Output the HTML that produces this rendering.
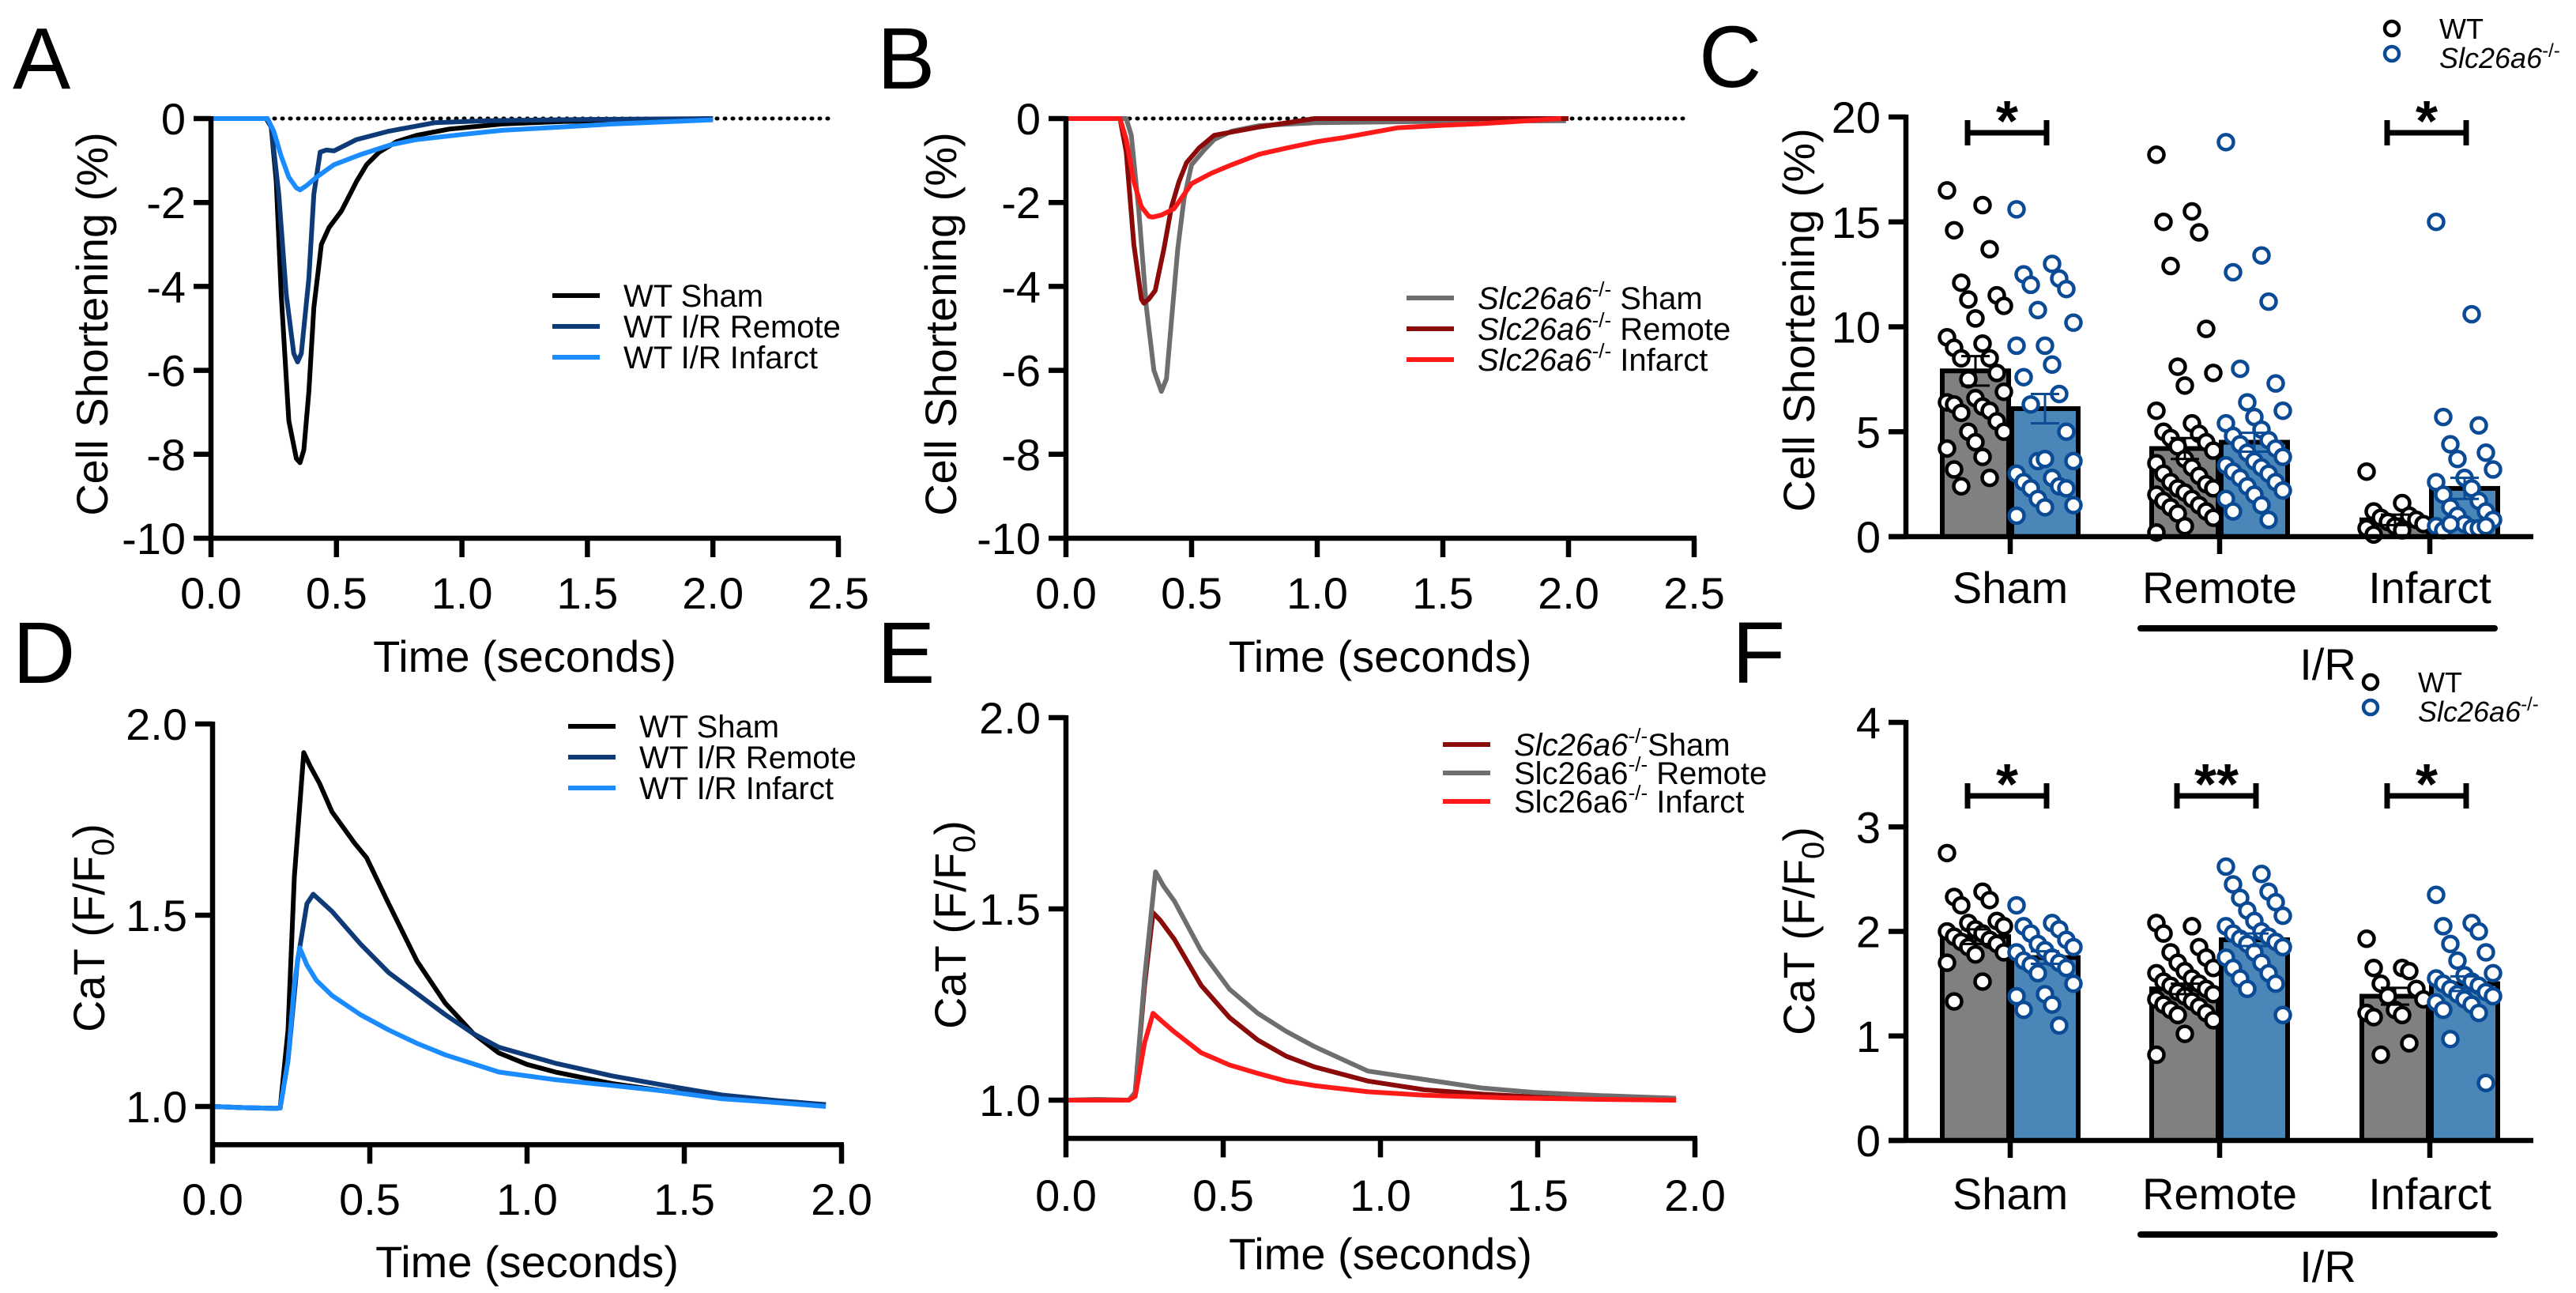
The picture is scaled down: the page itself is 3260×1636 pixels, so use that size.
<!DOCTYPE html>
<html><head><meta charset="utf-8">
<style>
html,body{margin:0;padding:0;background:#fff;}
svg{display:block;font-family:"Liberation Sans",Arial,sans-serif;}
</style></head>
<body>
<svg id="fig" xmlns="http://www.w3.org/2000/svg" width="3260" height="1636" viewBox="0 0 3260 1636">
<rect width="3260" height="1636" fill="#fff"/>
<text x="16" y="112" font-size="110">A</text>
<text x="1110" y="112" font-size="110">B</text>
<text x="2150" y="110" font-size="110">C</text>
<text x="16" y="864" font-size="110">D</text>
<text x="1110" y="864" font-size="110">E</text>
<text x="2192" y="864" font-size="110">F</text>
</svg>
<script>
// ---------- DATA ----------
const aShamT=[0,0.22,0.24,0.26,0.28,0.31,0.34,0.355,0.37,0.39,0.41,0.44,0.47,0.52,0.58,0.62,0.67,0.74,0.82,0.95,1.16,1.4,1.7,2.0];
const aShamV=[0,0,-0.2,-1.5,-4.2,-7.2,-8.1,-8.2,-7.9,-6.5,-4.5,-3.0,-2.6,-2.2,-1.5,-1.1,-0.8,-0.55,-0.4,-0.25,-0.13,-0.07,-0.04,0];
const aRemT=[0,0.225,0.24,0.27,0.3,0.33,0.345,0.36,0.39,0.41,0.435,0.46,0.49,0.58,0.71,0.89,1.1,1.5,2.0];
const aRemV=[0,0,-0.2,-1.8,-4.2,-5.6,-5.8,-5.6,-3.8,-1.8,-0.8,-0.75,-0.77,-0.5,-0.3,-0.1,-0.05,-0.02,0];
const aInfT=[0,0.225,0.25,0.28,0.31,0.34,0.355,0.38,0.42,0.49,0.6,0.72,0.82,1.0,1.16,1.4,1.6,1.8,2.0];
const aInfV=[0,0,-0.3,-0.9,-1.4,-1.65,-1.7,-1.6,-1.4,-1.1,-0.85,-0.62,-0.5,-0.38,-0.28,-0.2,-0.13,-0.08,-0.03];
const bShamT=[0,0.24,0.26,0.29,0.32,0.35,0.38,0.4,0.42,0.445,0.47,0.5,0.55,0.59,0.66,0.77,0.99,1.43,1.99];
const bShamV=[0,0,-0.4,-2.2,-4.5,-6.0,-6.5,-6.2,-4.8,-3.1,-1.9,-1.1,-0.75,-0.5,-0.3,-0.17,-0.1,-0.07,-0.05];
const bRemT=[0,0.215,0.24,0.27,0.3,0.31,0.33,0.355,0.39,0.42,0.45,0.48,0.53,0.59,0.77,0.99,1.5,2.0];
const bRemV=[0,0,-0.8,-3.0,-4.3,-4.4,-4.3,-4.1,-3.1,-2.1,-1.5,-1.05,-0.7,-0.4,-0.2,0,0,0];
const bInfT=[0,0.215,0.24,0.27,0.3,0.33,0.345,0.38,0.43,0.5,0.58,0.66,0.77,0.88,1.0,1.1,1.32,1.5,1.66,1.97];
const bInfV=[0,0,-0.5,-1.5,-2.1,-2.33,-2.35,-2.3,-2.15,-1.55,-1.3,-1.1,-0.85,-0.7,-0.55,-0.46,-0.22,-0.16,-0.12,0];
const dShamT=[0,0.1,0.2,0.215,0.24,0.26,0.29,0.31,0.34,0.38,0.45,0.49,0.56,0.65,0.74,0.83,0.91,1.0,1.09,1.27,1.44,1.62,1.8,1.95];
const dShamV=[1.0,0.997,0.995,0.996,1.2,1.6,1.925,1.89,1.845,1.77,1.69,1.65,1.53,1.38,1.27,1.19,1.14,1.11,1.09,1.06,1.04,1.025,1.012,1.005];
const dRemT=[0,0.1,0.2,0.215,0.24,0.27,0.3,0.32,0.38,0.47,0.56,0.65,0.74,0.83,0.91,1.09,1.27,1.44,1.62,1.8,1.95];
const dRemV=[1.0,0.997,0.995,0.996,1.12,1.38,1.53,1.555,1.51,1.425,1.35,1.295,1.24,1.19,1.155,1.113,1.08,1.055,1.03,1.015,1.005];
const dInfT=[0,0.1,0.2,0.215,0.24,0.26,0.277,0.3,0.33,0.38,0.47,0.56,0.65,0.74,0.91,1.09,1.27,1.44,1.62,1.8,1.95];
const dInfV=[1.0,0.997,0.995,0.996,1.12,1.32,1.415,1.37,1.33,1.29,1.24,1.2,1.165,1.135,1.09,1.07,1.055,1.04,1.02,1.01,1.0];
const eShamT=[0,0.1,0.2,0.22,0.25,0.277,0.3,0.345,0.43,0.52,0.61,0.7,0.79,0.96,1.14,1.32,1.5,1.7,1.94];
const eShamV=[1.0,1.0,1.0,1.02,1.3,1.49,1.47,1.42,1.3,1.216,1.157,1.115,1.087,1.05,1.027,1.016,1.008,1.003,1.0];
const eRemT=[0,0.1,0.2,0.22,0.25,0.285,0.31,0.345,0.43,0.52,0.61,0.7,0.79,0.96,1.14,1.32,1.49,1.7,1.94];
const eRemV=[1.0,1.002,1.0,1.02,1.32,1.597,1.56,1.52,1.39,1.29,1.227,1.18,1.14,1.076,1.054,1.032,1.02,1.012,1.005];
const eInfT=[0,0.1,0.2,0.22,0.25,0.277,0.3,0.345,0.43,0.52,0.61,0.7,0.79,0.96,1.14,1.4,1.7,1.94];
const eInfV=[1.0,1.0,1.0,1.01,1.15,1.227,1.21,1.178,1.124,1.092,1.07,1.05,1.038,1.022,1.013,1.006,1.002,1.0];

const groups=["Sham","Remote","Infarct"];
const cMeanWT=[7.9,4.2,0.8], cMeanKO=[6.1,4.5,2.3];
const cSemWT=[0.7,0.5,0.25], cSemKO=[0.7,0.45,0.5];
const cPtsWT=[
 [16.5,15.8,14.6,13.7,12.1,11.5,11.3,11,10.4,9.5,9.2,9,8.5,8.5,7.8,7.5,6.9,6.6,6.4,6.2,6.3,6,5.9,5.5,5,5,4.5,4.2,3.8,3.2,2.8,2.4],
 [18.2,15.5,15,14.5,12.9,9.9,8.1,7.8,7.2,6,5.4,5,4.9,4.7,4.5,4.3,4.1,3.7,3.5,3.3,3,2.9,2.6,2.5,2.3,2.3,2.1,2,1.8,1.7,1.5,1.4,1.2,1.1,0.9,0.5,0.2],
 [3.1,1.6,1.2,1.0,0.9,0.8,0.7,0.6,0.5,0.4,0.3,0.1]];
const cPtsKO=[
 [15.6,13,12.5,12.3,12,11.8,10.8,10.2,9.1,9.1,8.2,7.6,6.8,6.3,5,3.6,3.6,3.7,3,2.8,2.6,2.4,2.3,2.3,1.8,1.5,1.4,1.0],
 [18.8,13.4,12.6,11.2,8,7.3,6.4,6,5.7,5.4,5.1,4.8,4.6,4.4,4.2,4,3.8,3.6,3.4,3.3,3.1,3,2.8,2.6,2.4,2.2,2,1.8,1.5,1.2,0.8],
 [15,10.6,5.7,5.3,4.4,4,3.7,3.2,2.8,2.6,2.3,2,1.7,1.4,1.2,1,0.8,0.6,0.5,0.4,0.3,0.4,0.6,0.5]];
const cSig=["*","","*"];
const cTicks=[0,5,10,15,20];
const fMeanWT=[1.95,1.45,1.38], fMeanKO=[1.75,1.92,1.5];
const fSemWT=[0.07,0.05,0.08], fSemKO=[0.06,0.06,0.07];
const fPtsWT=[
 [2.75,2.38,2.33,2.3,2.25,2.1,2.08,2.05,2.02,2.0,1.98,1.95,1.92,1.9,1.88,1.85,1.8,1.78,1.7,1.52,1.33],
 [2.08,2.05,1.98,1.85,1.8,1.75,1.7,1.65,1.62,1.6,1.55,1.52,1.5,1.48,1.45,1.42,1.4,1.38,1.35,1.33,1.3,1.28,1.25,1.22,1.2,1.15,1.02,0.82],
 [1.93,1.65,1.65,1.62,1.5,1.45,1.38,1.35,1.25,1.22,1.2,1.18,0.93,0.82]];
const fPtsKO=[
 [2.25,2.08,2.05,2.02,1.98,1.92,1.88,1.85,1.82,1.8,1.75,1.72,1.7,1.68,1.65,1.6,1.5,1.4,1.38,1.3,1.25,1.1],
 [2.62,2.55,2.45,2.38,2.32,2.28,2.2,2.15,2.1,2.05,2,1.98,1.95,1.93,1.9,1.88,1.85,1.8,1.75,1.7,1.65,1.6,1.55,1.5,1.45,1.2],
 [2.35,2.08,2.05,2,1.88,1.8,1.72,1.6,1.58,1.55,1.52,1.5,1.48,1.45,1.42,1.4,1.38,1.35,1.32,1.3,1.25,1.22,0.97,0.55]];
const fSig=["*","**","*"];
const fTicks=[0,1,2,3,4];
const shortTicks=[0,-2,-4,-6,-8,-10];
const catTicks=[1.0,1.5,2.0];
const timeTicks25=[0,0.5,1,1.5,2,2.5];
const timeTicks20=[0,0.5,1,1.5,2];

// ---------- DRAWING ----------
const NS="http://www.w3.org/2000/svg";
const svg=document.getElementById("fig");
function mk(tag,attrs,parent){const e=document.createElementNS(NS,tag);for(const k in attrs)e.setAttribute(k,attrs[k]);(parent||svg).appendChild(e);return e;}
const AX=6.5, FS=56;

function linePanel(p){
  const g=mk("g",{});
  
  
  const sx=t=>p.x0+(t-p.xmin)/(p.xmax-p.xmin)*(p.x1-p.x0);
  const sy=v=>p.yTop+(p.ymax-v)/(p.ymax-p.ymin)*(p.yBot-p.yTop);
  const axisBottom=p.axisBottom!==undefined?sy(p.axisBottom):p.yBot;
  if(p.dotted){
    const d=mk("line",{x1:p.x0,y1:sy(0),x2:p.dotEnd,y2:sy(0),stroke:"#000","stroke-width":5,"stroke-dasharray":"1 9","stroke-linecap":"round"},g);
    
    
  }
  p.series.forEach(s=>{
    const pts=s.t.map((t,i)=>sx(t).toFixed(1)+","+sy(s.v[i]).toFixed(1)).join(" ");
    const pl=mk("polyline",{points:pts,fill:"none",stroke:s.color,"stroke-width":6,"stroke-linejoin":"round"},g);
    
    
  });
  const ya=mk("line",{x1:p.x0,y1:sy(p.ymax)-3,x2:p.x0,y2:axisBottom,stroke:"#000","stroke-width":AX},g);
  
  
  const xa=mk("line",{x1:p.x0-3,y1:axisBottom,x2:p.x1+3,y2:axisBottom,stroke:"#000","stroke-width":AX},g);
  
  
  p.yTicks.forEach(v=>{
    mk("line",{x1:p.x0-22,y1:sy(v),x2:p.x0,y2:sy(v),stroke:"#000","stroke-width":AX},g);
    const t=mk("text",{x:p.x0-32,y:sy(v)+20,"font-size":FS,"text-anchor":"end"},g);
    t.textContent=p.yFmt(v);
    
    
  });
  p.xTicks.forEach(v=>{
    mk("line",{x1:sx(v),y1:axisBottom,x2:sx(v),y2:axisBottom+24,stroke:"#000","stroke-width":AX},g);
    const t=mk("text",{x:sx(v),y:p.xLabY,"font-size":FS,"text-anchor":"middle"},g);
    t.textContent=v.toFixed(1);
    
    
  });
  const xt=mk("text",{x:(p.x0+p.x1)/2,y:p.xTitleY,"font-size":FS,"text-anchor":"middle"},g);
  xt.textContent="Time (seconds)";
  
  
  const yt=mk("text",{x:0,y:0,"font-size":FS,"text-anchor":"middle",transform:`translate(${p.yTitleX},${p.yTitleY}) rotate(-90)`},g);
  yt.innerHTML=p.yTitle;
  
  
  p.series.forEach((s,i)=>{
    const y=p.legY+i*p.legDy;
    const l=mk("line",{x1:p.legX,y1:y,x2:p.legX+60,y2:y,stroke:s.color,"stroke-width":6},g);
    
    
    const t=mk("text",{x:p.legX+90,y:y+14,"font-size":40},g);
    t.innerHTML=s.label;
    
    
  });
}
const KOi='<tspan font-style="italic">Slc26a6</tspan><tspan font-size="26" dy="-16">-/-</tspan><tspan dy="16">';
const KOn='<tspan>Slc26a6</tspan><tspan font-size="26" dy="-16">-/-</tspan><tspan dy="16">';
const caTitle='CaT (F/F<tspan font-size="40" dy="12">0</tspan><tspan dy="-12">)</tspan>';

linePanel({name:"panel-a-chart",x0:267,x1:1061,xmin:0,xmax:2.5,yTop:150,yBot:681,ymin:-10,ymax:0,
  yTicks:shortTicks,yFmt:v=>String(v),xTicks:timeTicks25,xLabY:770,xTitleY:850,
  yTitleX:136,yTitleY:410,yTitle:"Cell Shortening (%)",dotted:true,dotEnd:1056,
  legX:699,legY:374,legDy:39,
  series:[{name:"trace-wt-sham",t:aShamT,v:aShamV,color:"#000",label:"WT Sham"},
          {name:"trace-wt-remote",t:aRemT,v:aRemV,color:"#0f3a78",label:"WT I/R Remote"},
          {name:"trace-wt-infarct",t:aInfT,v:aInfV,color:"#1a8cff",label:"WT I/R Infarct"}]});
linePanel({name:"panel-b-chart",x0:1349,x1:2144,xmin:0,xmax:2.5,yTop:150,yBot:681,ymin:-10,ymax:0,
  yTicks:shortTicks,yFmt:v=>String(v),xTicks:timeTicks25,xLabY:770,xTitleY:850,
  yTitleX:1210,yTitleY:410,yTitle:"Cell Shortening (%)",dotted:true,dotEnd:2137,
  legX:1780,legY:377,legDy:39,
  series:[{name:"trace-ko-sham",t:bShamT,v:bShamV,color:"#6e6e6e",label:KOi+" Sham</tspan>"},
          {name:"trace-ko-remote",t:bRemT,v:bRemV,color:"#8b0a0a",label:KOi+" Remote</tspan>"},
          {name:"trace-ko-infarct",t:bInfT,v:bInfV,color:"#ff1a1a",label:KOi+" Infarct</tspan>"}]});
linePanel({name:"panel-d-chart",x0:269,x1:1065,xmin:0,xmax:2.0,yTop:916,yBot:1400,ymin:1.0,ymax:2.0,axisBottom:0.9,
  yTicks:catTicks,yFmt:v=>v.toFixed(1),xTicks:timeTicks20,xLabY:1537,xTitleY:1616,
  yTitleX:132,yTitleY:1174,yTitle:caTitle,
  legX:719,legY:919,legDy:39,
  series:[{name:"trace-wt-sham-cat",t:dShamT,v:dShamV,color:"#000",label:"WT Sham"},
          {name:"trace-wt-remote-cat",t:dRemT,v:dRemV,color:"#0f3a78",label:"WT I/R Remote"},
          {name:"trace-wt-infarct-cat",t:dInfT,v:dInfV,color:"#1a8cff",label:"WT I/R Infarct"}]});
linePanel({name:"panel-e-chart",x0:1349,x1:2145,xmin:0,xmax:2.0,yTop:908,yBot:1392,ymin:1.0,ymax:2.0,axisBottom:0.9,
  yTicks:catTicks,yFmt:v=>v.toFixed(1),xTicks:timeTicks20,xLabY:1532,xTitleY:1606,
  yTitleX:1222,yTitleY:1170,yTitle:caTitle,
  legX:1826,legY:942,legDy:36,
  series:[{name:"trace-ko-sham-cat",t:eShamT,v:eShamV,color:"#8b0a0a",label:KOi+"Sham</tspan>"},
          {name:"trace-ko-remote-cat",t:eRemT,v:eRemV,color:"#6e6e6e",label:KOn+" Remote</tspan>"},
          {name:"trace-ko-infarct-cat",t:eInfT,v:eInfV,color:"#ff1a1a",label:KOn+" Infarct</tspan>"}]});

function barPanel(p){
  const g=mk("g",{});
  
  
  const x0=2412, xEnd=3206, catX=[2544,2809,3075];
  const sy=v=>p.y0+(v-p.ymin)/(p.ymax-p.ymin)*(p.yTop-p.y0);
  const BW=84;
  groups.forEach((gname,i)=>{
    const cx=catX[i];
    [[p.mWT,p.sWT,p.pWT,"#808080","#000",cx-BW/2-2,"wt"],[p.mKO,p.sKO,p.pKO,"#4a87b8","#0b4a95",cx+BW/2+2,"ko"]].forEach(([m,s,pts,fill,pc,bx,tag])=>{
      const r=mk("rect",{x:bx-BW/2,y:sy(m[i]),width:BW,height:sy(p.ymin)-sy(m[i]),fill:fill,stroke:"#000","stroke-width":6},g);
      
      
      pts[i].forEach((v,k)=>{
        const off=(((k*5)%9)-4)/4*36;
        const c=mk("circle",{cx:bx+off,cy:sy(v),r:9.5,fill:"#fff",stroke:pc,"stroke-width":4.5},g);
        
        
      });
      const e=mk("path",{d:`M${bx},${sy(m[i]-s[i])}V${sy(m[i]+s[i])}M${bx-18},${sy(m[i]+s[i])}H${bx+18}M${bx-18},${sy(m[i]-s[i])}H${bx+18}`,stroke:pc,"stroke-width":3,fill:"none"},g);
      
      
    });
    if(p.sig[i]){
      const bl=cx-54, br=cx+46;
      const b=mk("path",{d:`M${bl},${p.brY-16}V${p.brY+16}M${bl},${p.brY}H${br}M${br},${p.brY-16}V${p.brY+16}`,stroke:"#000","stroke-width":7,fill:"none"},g);
      
      
      const st=mk("text",{x:cx-4,y:p.brY+10,"font-size":72,"font-weight":"bold","text-anchor":"middle"},g);
      st.textContent=p.sig[i];
      
      
    }
    mk("line",{x1:cx,y1:sy(p.ymin),x2:cx,y2:sy(p.ymin)+22,stroke:"#000","stroke-width":AX},g);
    const t=mk("text",{x:cx,y:p.catY,"font-size":FS,"text-anchor":"middle"},g);
    t.textContent=gname;
    
    
  });
  const ya=mk("line",{x1:x0,y1:sy(p.ymax)-3,x2:x0,y2:sy(p.ymin),stroke:"#000","stroke-width":AX},g);
  
  
  const xa=mk("line",{x1:x0-22,y1:sy(p.ymin),x2:xEnd,y2:sy(p.ymin),stroke:"#000","stroke-width":AX},g);
  
  
  p.ticks.forEach(v=>{
    mk("line",{x1:x0-22,y1:sy(v),x2:x0,y2:sy(v),stroke:"#000","stroke-width":AX},g);
    const t=mk("text",{x:x0-32,y:sy(v)+20,"font-size":FS,"text-anchor":"end"},g);
    t.textContent=String(v);
    
    
  });
  const ir=mk("line",{x1:2709,y1:p.irLineY,x2:3157,y2:p.irLineY,stroke:"#000","stroke-width":8,"stroke-linecap":"round"},g);
  
  
  const irt=mk("text",{x:2946,y:p.irTextY,"font-size":FS,"text-anchor":"middle"},g);
  irt.textContent="I/R";
  
  
  const yt=mk("text",{x:0,y:0,"font-size":FS,"text-anchor":"middle",transform:`translate(${p.yTitleX},${p.yTitleY}) rotate(-90)`},g);
  yt.innerHTML=p.yTitle;
  
  
  const c1=mk("circle",{cx:p.legX,cy:p.legY,r:9,fill:"#fff",stroke:"#000","stroke-width":4.5},g);
  
  
  const c2=mk("circle",{cx:p.legX,cy:p.legY+32,r:9,fill:"#fff",stroke:"#0b4a95","stroke-width":4.5},g);
  
  
  const t1=mk("text",{x:p.legX+60,y:p.legY+13,"font-size":36},g);
  t1.textContent="WT";
  
  
  const t2=mk("text",{x:p.legX+60,y:p.legY+50,"font-size":36},g);
  t2.innerHTML='<tspan font-style="italic">Slc26a6</tspan><tspan font-size="24" dy="-14">-/-</tspan>';
  
  
}
barPanel({name:"panel-c-chart",y0:679,yTop:148,ymin:0,ymax:20,ticks:cTicks,mWT:cMeanWT,mKO:cMeanKO,sWT:cSemWT,sKO:cSemKO,pWT:cPtsWT,pKO:cPtsKO,sig:cSig,
  brY:168,catY:763,irLineY:795,irTextY:860,yTitleX:2296,yTitleY:405,yTitle:"Cell Shortening (%)",legX:3027,legY:36});
barPanel({name:"panel-f-chart",y0:1443,yTop:914,ymin:0,ymax:4,ticks:fTicks,mWT:fMeanWT,mKO:fMeanKO,sWT:fSemWT,sKO:fSemKO,pWT:fPtsWT,pKO:fPtsKO,sig:fSig,
  brY:1007,catY:1530,irLineY:1562,irTextY:1622,yTitleX:2296,yTitleY:1178,yTitle:caTitle,legX:3000,legY:863});
</script>
</body></html>
